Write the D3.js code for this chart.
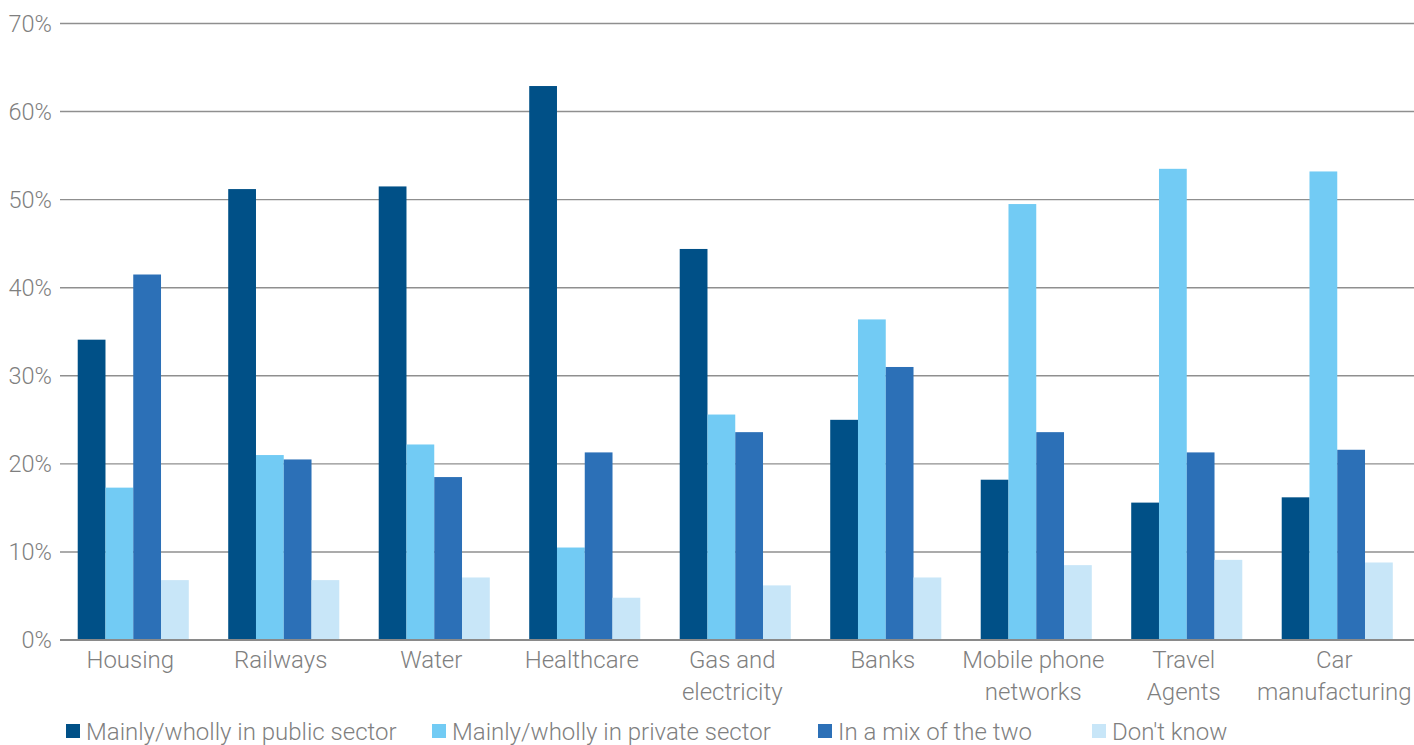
<!DOCTYPE html>
<html>
<head>
<meta charset="utf-8">
<script src="https://cdn.jsdelivr.net/npm/d3@7/dist/d3.min.js"></script>
<style>
  html, body { margin: 0; padding: 0; background: #fff; }
  svg { display: block; font-family: Roboto, "Noto Sans", sans-serif; font-weight: 300; }
</style>
</head>
<body>
<svg id="chart" width="1414" height="745"></svg>
<script>
// Where should each service be run? Share of respondents (%)
const categories = [
  ["Housing"], ["Railways"], ["Water"], ["Healthcare"], ["Gas and", "electricity"],
  ["Banks"], ["Mobile phone", "networks"], ["Travel", "Agents"], ["Car", "manufacturing"]
];
const seriesNames = [
  "Mainly/wholly in public sector",
  "Mainly/wholly in private sector",
  "In a mix of the two",
  "Don't know"
];
const publicSector  = [34.1, 51.2, 51.5, 62.9, 44.4, 25.0, 18.2, 15.6, 16.2];
const privateSector = [17.3, 21.0, 22.2, 10.5, 25.6, 36.4, 49.5, 53.5, 53.2];
const mixOfTwo      = [41.5, 20.5, 18.5, 21.3, 23.6, 31.0, 23.6, 21.3, 21.6];
const dontKnow      = [6.8, 6.8, 7.1, 4.8, 6.2, 7.1, 8.5, 9.1, 8.8];
const yTicks = [0, 10, 20, 30, 40, 50, 60, 70];

const colors = ["#005087", "#72cbf4", "#2c70b7", "#c8e6f8"];
const series = [publicSector, privateSector, mixOfTwo, dontKnow];

const svg = d3.select("#chart");
const textColor = "#7f7f7f";

const x0 = d3.scaleBand()
  .domain(d3.range(categories.length))
  .range([58, 1412.5])
  .paddingInner(0.262)
  .paddingOuter(0.131);
const x1 = d3.scaleBand()
  .domain(d3.range(series.length))
  .range([0, x0.bandwidth()]);
const y = d3.scaleLinear().domain([0, 70]).range([640, 23.5]);

// gridlines
svg.append("g")
  .selectAll("line")
  .data(yTicks)
  .join("line")
  .attr("x1", 60).attr("x2", 1414)
  .attr("y1", d => y(d)).attr("y2", d => y(d))
  .attr("stroke", d => d === 0 ? "#8a8a8a" : "#8f8f8f")
  .attr("stroke-width", d => d === 0 ? 2 : 1.4);

// y-axis labels
svg.append("g")
  .selectAll("text")
  .data(yTicks)
  .join("text")
  .attr("x", 52)
  .attr("y", d => y(d))
  .attr("dy", "0.36em")
  .attr("text-anchor", "end")
  .attr("fill", textColor)
  .attr("font-size", 23.5)
  .text(d => d + "%");

// bars
const groups = svg.append("g")
  .selectAll("g")
  .data(categories.map((c, i) => i))
  .join("g")
  .attr("transform", i => `translate(${x0(i)},0)`);

groups.selectAll("rect")
  .data(i => series.map((s, k) => ({ k, v: s[i] })))
  .join("rect")
  .attr("x", d => x1(d.k))
  .attr("width", x1.bandwidth())
  .attr("y", d => y(d.v))
  .attr("height", d => y(0) - y(d.v))
  .attr("fill", d => colors[d.k]);

// redraw baseline over bars
svg.append("line")
  .attr("x1", 60).attr("x2", 1414)
  .attr("y1", y(0)).attr("y2", y(0))
  .attr("stroke", "#8a8a8a").attr("stroke-width", 2);

// category labels
const catLabels = svg.append("g")
  .selectAll("text")
  .data(categories)
  .join("text")
  .attr("x", (d, i) => x0(i) + x0.bandwidth() / 2 - 3)
  .attr("y", 668)
  .attr("text-anchor", "middle")
  .attr("fill", textColor)
  .attr("font-size", 24);
catLabels.selectAll("tspan")
  .data(d => d)
  .join("tspan")
  .attr("x", function () { return d3.select(this.parentNode).attr("x"); })
  .attr("dy", (d, j) => j === 0 ? 0 : 32)
  .text(d => d);

// legend
const legendX = [66, 432, 818, 1092];
const legend = svg.append("g")
  .selectAll("g")
  .data(seriesNames)
  .join("g")
  .attr("transform", (d, i) => `translate(${legendX[i]},724)`);
legend.append("rect")
  .attr("width", 14).attr("height", 14)
  .attr("fill", (d, i) => colors[i]);
legend.append("text")
  .attr("x", 20)
  .attr("y", 7)
  .attr("dy", "0.36em")
  .attr("fill", textColor)
  .attr("font-size", 24)
  .text(d => d);
</script>
</body>
</html>
